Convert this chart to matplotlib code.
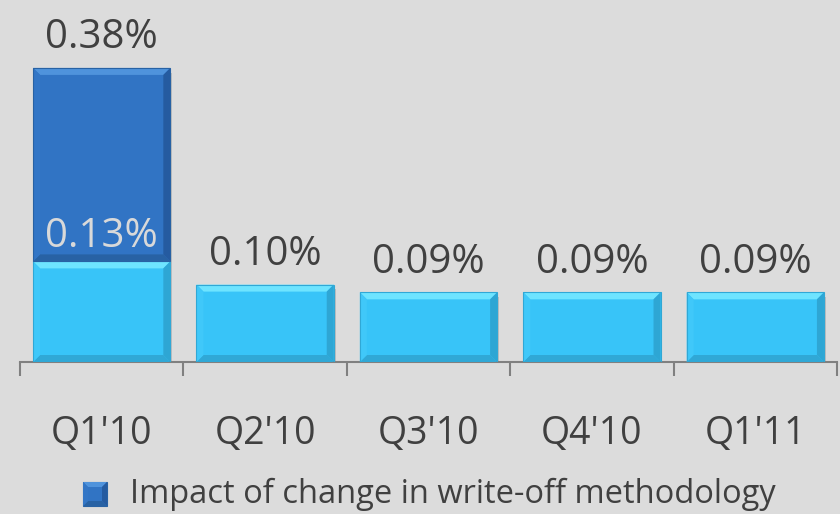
import numpy as np
import matplotlib.pyplot as plt
from matplotlib.patches import Polygon, Rectangle

plt.rcParams['font.family'] = ['Open Sans', 'DejaVu Sans']

quarters = ["Q1'10", "Q2'10", "Q3'10", "Q4'10", "Q1'11"]
base_rate = [0.13, 0.10, 0.09, 0.09, 0.09]
method_impact = [0.25, 0, 0, 0, 0]
total_labels = ["0.38%", "0.10%", "0.09%", "0.09%", "0.09%"]
inner_labels = ["0.13%", "", "", "", ""]
legend_label = "Impact of change in write-off methodology"

bg = '#dcdcdc'
light = '#38c4f8'
dark = '#3174c4'
txt = '#404040'

fig = plt.figure(figsize=(8.4, 5.14), dpi=100, facecolor=bg)
W, H = 840, 514
ax = fig.add_axes([20 / W, (H - 362) / H, 817 / W, 356 / H])
ax.set_facecolor(bg)

x = np.arange(len(quarters))
width = 0.84
base = np.array(base_rate)
top = np.array(method_impact)

ax.set_xlim(-0.5, len(quarters) - 0.5)
ax.set_ylim(0, 0.46)

# soft shadow under each bar
for xi, b, t in zip(x, base, top):
    ax.bar(xi + 0.012, b + t, width, bottom=-0.006, color='#bdbdbd', zorder=1)

bars_base = ax.bar(x, base, width, color=light, zorder=2)
bars_top = ax.bar(x, top, width, bottom=base, color=dark, zorder=2)

DARK_BEVEL = ('#4f93dc', '#3376c6', '#255ba0', '#2862a4')
LIGHT_BEVEL = ('#6ee4ff', '#40c8f9', '#2ea6d4', '#30a8d6')


def bevel_px(target, a0, b0, a1, b1, cols, px, tr_in, tr_out, z):
    hi, side_hi, side_lo, lo = cols
    polys = [
        ([(a0, b1), (a1, b1), (a1 - px, b1 - px), (a0 + px, b1 - px)], hi),
        ([(a0, b0), (a1, b0), (a1 - px, b0 + px), (a0 + px, b0 + px)], lo),
        ([(a0, b0), (a0, b1), (a0 + px, b1 - px), (a0 + px, b0 + px)], side_hi),
        ([(a1, b0), (a1, b1), (a1 - px, b1 - px), (a1 - px, b0 + px)], side_lo),
    ]
    for poly, c in polys:
        target.add_artist(Polygon(tr_in.transform(poly), closed=True, fc=c,
                                  lw=0, zorder=z, transform=tr_out))


def bevel(rect, cols, px=7):
    if rect.get_height() <= 0:
        return
    x0, y0 = rect.get_x(), rect.get_y()
    x1, y1 = x0 + rect.get_width(), y0 + rect.get_height()
    a0, b0 = ax.transData.transform((x0, y0))
    a1, b1 = ax.transData.transform((x1, y1))
    bevel_px(ax, a0, b0, a1, b1, cols, px, ax.transData.inverted(),
             ax.transData, 3)
    ax.add_patch(Rectangle((x0, y0), x1 - x0, y1 - y0, fill=False,
                           ec=cols[3], lw=0.8, zorder=4))


for r in bars_base:
    bevel(r, LIGHT_BEVEL)
for r in bars_top:
    bevel(r, DARK_BEVEL)

# value labels
for xi, b, t, lab in zip(x, base, top, total_labels):
    ax.annotate(lab, (xi, b + t), xytext=(0, 7), textcoords='offset points',
                ha='center', va='bottom', fontsize=29, color=txt,
                annotation_clip=False)
for xi, b, lab in zip(x, base, inner_labels):
    if lab:
        ax.annotate(lab, (xi, b), xytext=(0, 3), textcoords='offset points',
                    ha='center', va='bottom', fontsize=29, color='#d9d9d9',
                    zorder=5)

# axis
for s in ['top', 'right', 'left']:
    ax.spines[s].set_visible(False)
ax.spines['bottom'].set_color('#808080')
ax.spines['bottom'].set_linewidth(1.5)
ax.set_yticks([])
ax.set_xticks(np.arange(len(quarters) + 1) - 0.5)
ax.set_xticklabels([])
ax.tick_params(axis='x', length=10, width=1.5, color='#808080')
for xi, q in zip(x, quarters):
    ax.text(xi, -0.068, q, ha='center', va='top', fontsize=27, color=txt)

# legend key with the same bevel as the bars
kx0, ky0, kx1, ky1 = 83, H - 506, 107, H - 482
fig.patches.append(Rectangle((kx0 / W, ky0 / H), (kx1 - kx0) / W,
                             (ky1 - ky0) / H, transform=fig.transFigure,
                             fc=dark, ec=DARK_BEVEL[3], lw=0.8, zorder=2))
px_to_fig = fig.transFigure.inverted()
fig_px = fig.dpi_scale_trans.inverted()
for poly_pts, c in [
        ([(kx0, ky1), (kx1, ky1), (kx1 - 5, ky1 - 5), (kx0 + 5, ky1 - 5)], DARK_BEVEL[0]),
        ([(kx0, ky0), (kx1, ky0), (kx1 - 5, ky0 + 5), (kx0 + 5, ky0 + 5)], DARK_BEVEL[3]),
        ([(kx0, ky0), (kx0, ky1), (kx0 + 5, ky1 - 5), (kx0 + 5, ky0 + 5)], DARK_BEVEL[1]),
        ([(kx1, ky0), (kx1, ky1), (kx1 - 5, ky1 - 5), (kx1 - 5, ky0 + 5)], DARK_BEVEL[2])]:
    fig.patches.append(Polygon([(px / W, py / H) for px, py in poly_pts],
                               closed=True, fc=c, lw=0,
                               transform=fig.transFigure, zorder=3))
fig.text(130 / W, (H - 494) / H, legend_label, ha='left', va='center',
         fontsize=23.5, color=txt)

fig.savefig('out.png', dpi=100, facecolor=bg)
